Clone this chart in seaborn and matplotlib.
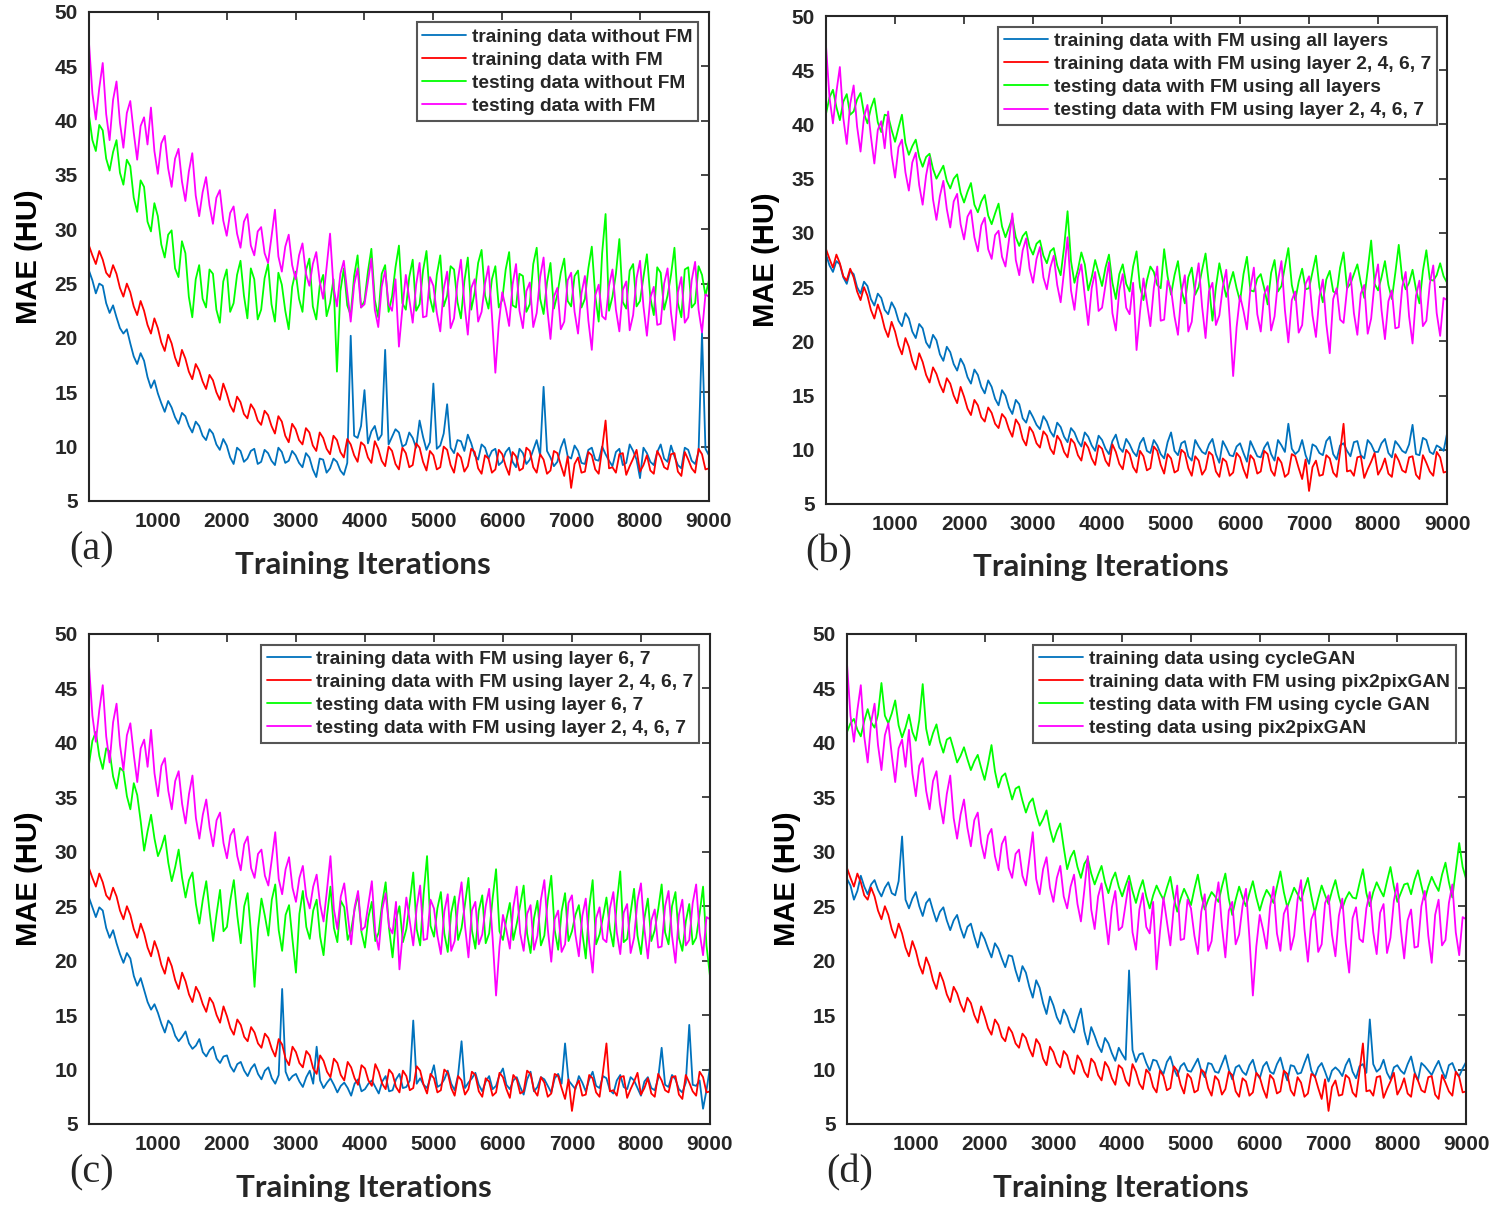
import numpy as np
import pandas as pd
import matplotlib
matplotlib.use("Agg")
import matplotlib.pyplot as plt
import seaborn as sns

# MAE (HU) every 100 training iterations (0 .. 9000),
# plus the in-between readings at 50, 150, ..., 8950 (the *_mid lists)
iters = list(range(0, 9001, 100))
half_iters = list(range(50, 9000, 100))

# shared by all four panels: training / testing data with FM (layer 2, 4, 6, 7)
train_fm = [28.5, 26.8, 27.2, 25.6, 25.9, 23.8, 24.2, 22.1, 22.5, 20.4,
            20.9, 18.8, 19.5, 17.4, 18.1, 16.2, 17.0, 15.3, 16.1, 14.3,
            14.9, 13.2, 14.1, 12.6, 13.4, 12.0, 12.9, 11.2, 12.3, 10.4,
            11.6, 10.2, 11.3, 9.6, 10.8, 9.3, 10.6, 9.0, 10.2, 8.6,
            10.1, 8.5, 9.8, 8.2, 9.6, 7.9, 9.4, 8.3, 9.9, 7.8,
            9.2, 8.1, 9.7, 7.6, 9.0, 8.2, 9.5, 7.5, 8.9, 7.9,
            9.3, 7.4, 9.1, 8.0, 9.6, 7.6, 8.8, 7.8, 9.4, 7.3,
            6.2, 9.0, 7.7, 9.2, 7.5, 12.4, 8.1, 9.3, 7.4, 8.9,
            7.7, 9.2, 7.5, 9.0, 7.9, 9.4, 7.3, 8.8, 7.6, 9.3,
            8.0]
train_fm_mid = [27.6, 28.0, 26.0, 26.7, 24.6, 25.0, 22.9, 23.4, 21.2, 21.8,
                19.6, 20.3, 18.2, 18.9, 16.9, 17.6, 16.0, 16.6, 15.0, 15.8,
                13.8, 14.6, 13.0, 13.9, 12.4, 13.3, 11.9, 12.8, 11.0, 12.1,
                10.6, 11.7, 10.1, 11.3, 9.8, 11.0, 9.5, 10.7, 9.2, 10.4,
                9.0, 10.5, 8.7, 10.0, 8.4, 9.9, 8.1, 10.3, 8.6, 9.6,
                7.9, 10.0, 8.3, 9.4, 7.7, 9.8, 8.0, 9.2, 7.6, 9.7,
                8.2, 9.5, 7.8, 9.9, 8.1, 9.3, 7.5, 9.6, 8.3, 9.1,
                8.4, 7.6, 9.5, 7.9, 9.8, 8.0, 7.6, 9.4, 8.2, 9.7,
                8.3, 7.8, 9.6, 8.1, 9.3, 7.7, 9.5, 8.0, 9.8, 7.9]
test_fm = [47.2, 40.1, 45.3, 38.2, 43.6, 37.5, 41.8, 36.4, 40.3, 41.2,
           35.1, 38.6, 33.9, 37.4, 32.6, 37.0, 31.2, 34.8, 30.5, 33.6,
           29.4, 32.1, 28.3, 31.4, 27.6, 30.2, 26.9, 31.8, 26.1, 29.5,
           25.4, 28.7, 24.8, 27.9, 23.6, 29.6, 22.9, 27.1, 21.5, 26.4,
           23.1, 27.3, 21.0, 26.2, 22.5, 19.2, 25.8, 21.4, 26.9, 22.0,
           24.8, 20.6, 26.1, 21.8, 27.2, 20.3, 25.4, 22.4, 26.6, 16.8,
           24.2, 21.1, 26.8, 20.9, 25.1, 22.3, 27.4, 19.9, 24.6, 21.5,
           26.0, 20.4, 25.7, 18.9, 24.9, 21.7, 26.3, 20.6, 25.2, 22.1,
           27.1, 20.2, 24.7, 21.3, 26.4, 19.8, 25.6, 21.9, 27.0, 20.5,
           23.8]
test_fm_mid = [42.5, 43.0, 40.6, 41.9, 39.8, 40.7, 38.9, 39.5, 37.8, 37.2,
               37.9, 35.6, 36.5, 34.4, 35.3, 33.1, 33.4, 32.2, 32.9, 30.8,
               31.5, 29.6, 30.7, 28.5, 29.8, 27.8, 29.3, 27.5, 28.4, 26.7,
               27.6, 25.9, 26.8, 25.2, 26.5, 24.7, 25.9, 24.2, 24.9, 22.8,
               25.2, 22.6, 24.7, 23.1, 25.4, 22.7, 23.6, 24.9, 21.9, 25.6,
               22.3, 24.5, 20.9, 25.1, 23.2, 24.6, 21.5, 25.0, 22.1, 21.3,
               22.8, 24.9, 22.5, 24.3, 21.0, 25.6, 22.9, 23.8, 20.8, 25.3,
               22.4, 24.1, 21.6, 23.9, 22.0, 24.8, 22.6, 24.4, 20.7, 25.5,
               22.9, 23.7, 21.2, 25.0, 22.3, 24.2, 21.4, 25.3, 22.6, 24.0]

# (a) without FM
train_a = [26.2, 24.1, 24.8, 22.3, 21.9, 20.4, 19.5, 17.6, 17.9, 15.4,
           14.9, 13.2, 13.6, 12.1, 12.8, 11.3, 11.9, 10.6, 11.2, 9.7,
           10.1, 8.4, 9.6, 8.9, 9.8, 8.6, 9.4, 8.3, 9.5, 8.7,
           9.2, 8.1, 9.0, 7.2, 8.8, 8.0, 8.6, 7.4, 20.2, 10.8,
           15.2, 11.4, 10.6, 18.9, 10.9, 11.3, 10.2, 10.8, 12.4, 9.7,
           15.8, 10.1, 13.9, 9.4, 10.5, 11.1, 9.2, 10.2, 8.9, 9.8,
           8.6, 9.9, 8.1, 9.4, 8.8, 10.6, 15.5, 9.0, 8.6, 10.7,
           8.9, 9.6, 8.4, 9.9, 8.7, 9.3, 8.2, 9.8, 8.5, 9.6,
           7.1, 9.4, 8.3, 10.2, 8.6, 9.1, 8.0, 9.7, 8.4, 20.5,
           9.2]
train_a_mid = [25.3, 25.0, 23.2, 23.0, 20.9, 20.8, 18.3, 18.6, 16.4, 16.1,
               14.0, 14.2, 12.7, 13.1, 11.9, 12.3, 11.0, 11.6, 10.2, 10.7,
               9.0, 9.9, 8.6, 9.6, 8.4, 9.7, 8.7, 9.9, 8.5, 9.6,
               8.5, 9.4, 7.9, 8.9, 7.6, 8.9, 7.8, 8.5, 11.0, 11.9,
               10.3, 11.9, 11.1, 10.2, 11.6, 10.0, 11.3, 9.9, 10.9, 10.4,
               9.8, 11.2, 9.9, 10.6, 9.6, 10.3, 8.8, 9.9, 9.6, 8.3,
               9.5, 8.6, 9.8, 8.4, 9.7, 9.2, 9.6, 8.2, 9.9, 9.1,
               10.1, 8.5, 9.7, 8.8, 10.0, 8.7, 9.5, 8.3, 10.2, 8.8,
               9.9, 8.6, 9.5, 8.9, 10.1, 8.3, 9.9, 8.7, 9.5, 9.8]
test_a = [40.5, 37.2, 39.1, 35.4, 38.2, 34.1, 35.8, 31.6, 33.9, 29.8,
          31.2, 27.4, 29.9, 25.6, 27.8, 21.9, 26.7, 22.8, 25.9, 21.4,
          26.3, 23.2, 27.1, 21.8, 25.4, 22.6, 26.8, 21.5, 24.9, 20.8,
          26.1, 22.4, 27.3, 21.7, 25.8, 23.2, 16.9, 26.4, 22.1, 27.6,
          23.4, 28.2, 21.9, 26.7, 23.8, 28.5, 22.6, 27.2, 23.1, 28.0,
          22.4, 27.6, 23.9, 26.3, 21.8, 27.4, 24.2, 28.1, 22.7, 26.6,
          23.5, 27.9, 22.8, 25.7, 23.1, 28.3, 22.2, 26.9, 24.0, 27.3,
          22.9, 26.2, 23.6, 28.4, 21.5, 31.4, 23.8, 29.1, 22.7, 26.8,
          23.4, 27.7, 22.1, 26.0, 23.9, 28.3, 21.9, 26.5, 23.2, 25.8,
          25.3]
test_a_mid = [38.2, 39.6, 36.5, 37.1, 35.2, 36.4, 32.9, 34.5, 30.7, 32.4,
              28.6, 29.5, 26.4, 28.9, 23.8, 25.4, 23.6, 26.3, 22.6, 25.2,
              22.4, 25.8, 23.9, 26.4, 21.7, 25.5, 23.1, 26.0, 22.5, 24.7,
              23.6, 26.2, 22.9, 24.8, 22.0, 25.4, 24.3, 23.0, 25.7, 22.8,
              26.1, 23.5, 25.9, 22.4, 26.5, 23.2, 25.6, 22.5, 26.2, 23.7,
              25.8, 22.9, 26.6, 23.3, 25.2, 22.6, 26.9, 23.9, 25.4, 22.8,
              26.3, 23.0, 25.9, 22.4, 26.8, 23.6, 25.1, 22.7, 26.0, 23.4,
              25.7, 22.8, 26.4, 23.9, 27.8, 22.5, 25.9, 23.3, 26.2, 22.9,
              25.6, 23.7, 26.5, 22.6, 25.8, 23.2, 26.3, 22.8, 26.6, 23.9]

# (b) FM using all layers
train_b = [28.0, 26.4, 27.1, 25.3, 26.2, 24.4, 25.1, 23.3, 24.0, 22.5,
           23.0, 21.4, 22.1, 20.3, 21.2, 19.4, 20.1, 18.2, 19.0, 17.3,
           17.8, 16.1, 16.9, 15.2, 15.8, 14.1, 15.0, 13.3, 14.2, 12.5,
           13.0, 11.9, 12.6, 11.2, 12.1, 10.7, 11.6, 10.3, 11.2, 9.9,
           10.9, 9.6, 11.4, 9.8, 10.5, 9.4, 11.1, 9.7, 10.4, 9.2,
           11.6, 9.5, 10.8, 9.0, 10.3, 9.6, 11.0, 8.8, 10.2, 9.4,
           10.6, 8.9, 10.1, 9.3, 10.7, 9.0, 10.4, 12.4, 9.6, 10.9,
           8.7, 10.3, 9.5, 11.2, 9.1, 10.6, 9.4, 10.8, 9.2, 10.5,
           9.8, 11.0, 9.3, 10.4, 9.7, 12.3, 9.5, 10.9, 9.6, 10.2,
           11.5]
train_b_mid = [27.0, 27.4, 25.9, 26.5, 25.0, 25.5, 23.9, 24.4, 22.9, 23.6,
               21.9, 22.6, 20.9, 21.6, 19.9, 20.6, 18.8, 19.5, 17.9, 18.4,
               16.7, 17.4, 15.8, 16.4, 14.7, 15.5, 13.9, 14.6, 12.9, 13.6,
               12.3, 13.1, 11.7, 12.5, 11.2, 12.0, 10.8, 11.6, 10.4, 11.3,
               10.1, 10.8, 10.2, 11.0, 9.8, 10.6, 9.9, 10.9, 9.6, 10.7,
               9.9, 10.6, 9.4, 10.9, 9.8, 10.5, 9.6, 10.8, 9.5, 10.3,
               9.7, 10.8, 9.4, 10.2, 9.6, 10.9, 9.8, 10.1, 9.9, 9.5,
               10.5, 9.7, 10.8, 9.6, 10.4, 9.9, 10.7, 9.5, 10.9, 9.8,
               10.6, 9.7, 10.8, 9.9, 10.5, 9.6, 11.1, 9.8, 10.4, 9.9]
test_b = [41.0, 43.2, 40.4, 42.8, 41.2, 42.9, 40.1, 42.4, 39.3, 40.8,
          38.4, 40.9, 37.2, 38.6, 36.1, 37.3, 35.0, 36.2, 34.1, 35.4,
          32.8, 34.6, 31.9, 33.5, 30.8, 32.7, 29.6, 31.4, 28.8, 30.1,
          28.0, 29.3, 27.2, 28.6, 26.1, 32.0, 25.4, 28.2, 24.7, 27.5,
          25.1, 28.0, 23.9, 27.1, 24.6, 28.3, 23.8, 26.9, 25.2, 28.5,
          24.3, 27.4, 23.5, 26.8, 25.0, 28.1, 21.9, 27.2, 24.1, 26.4,
          23.7, 27.8, 24.6, 26.2, 23.4, 27.5, 25.1, 28.6, 23.8, 26.7,
          24.9, 27.9, 23.6, 26.5, 24.4, 28.2, 25.3, 27.1, 24.0, 29.3,
          24.7, 27.4, 23.9, 28.9, 24.8, 26.6, 23.5, 28.4, 25.6, 27.2,
          25.4]
test_b_mid = [42.5, 41.6, 42.1, 40.9, 42.3, 41.0, 41.5, 40.2, 40.9, 39.5,
              39.7, 38.3, 38.0, 37.0, 37.0, 35.9, 35.6, 34.8, 35.0, 33.7,
              33.8, 32.6, 32.9, 31.6, 31.8, 30.6, 30.5, 29.6, 29.7, 28.7,
              29.0, 27.9, 28.3, 27.0, 28.7, 27.4, 26.6, 27.1, 25.9, 26.3,
              26.8, 25.4, 26.2, 25.3, 26.9, 25.0, 25.6, 26.4, 24.9, 26.0,
              26.1, 24.8, 25.9, 24.3, 26.6, 25.2, 25.0, 25.6, 25.3, 24.9,
              26.2, 24.7, 25.8, 24.9, 26.3, 24.6, 26.9, 25.2, 25.5, 24.8,
              26.4, 25.0, 25.7, 24.6, 26.8, 24.9, 26.2, 25.4, 26.6, 25.3,
              25.9, 25.2, 26.3, 25.8, 25.4, 24.8, 26.5, 25.7, 26.1, 26.0]

# (c) FM using layer 6, 7
train_c = [25.8, 24.0, 24.6, 22.1, 21.6, 19.8, 20.2, 17.7, 17.3, 15.5,
           15.2, 13.4, 14.1, 12.6, 13.5, 11.9, 12.8, 11.2, 12.1, 10.6,
           11.3, 9.8, 10.7, 9.4, 10.5, 9.1, 10.2, 8.7, 17.4, 9.0,
           9.6, 8.4, 9.9, 12.1, 8.3, 9.2, 7.9, 8.8, 7.6, 9.1,
           8.2, 9.0, 7.8, 9.4, 8.1, 9.6, 8.4, 14.5, 9.2, 8.3,
           10.4, 8.6, 9.9, 8.1, 12.6, 8.8, 9.7, 8.0, 9.4, 8.5,
           10.1, 8.2, 9.3, 7.7, 9.8, 8.4, 9.1, 7.9, 9.6, 12.4,
           8.6, 9.4, 8.0, 9.8, 8.3, 9.2, 7.8, 9.5, 8.2, 9.0,
           7.6, 9.3, 8.1, 12.0, 8.4, 9.1, 7.9, 14.1, 8.5, 6.4,
           10.2]
train_c_mid = [24.9, 24.9, 23.0, 22.8, 20.6, 20.7, 18.6, 18.4, 16.2, 16.0,
               14.2, 14.5, 13.1, 13.0, 12.4, 12.2, 11.6, 11.8, 11.0, 11.2,
               10.3, 10.5, 9.9, 10.1, 9.6, 9.9, 9.2, 9.5, 9.8, 9.4,
               8.9, 9.3, 8.7, 9.0, 8.8, 8.6, 8.5, 8.3, 8.7, 8.0,
               8.7, 8.4, 8.9, 8.0, 9.1, 8.3, 9.0, 8.7, 8.6, 9.3,
               8.4, 9.1, 8.7, 9.5, 8.3, 9.2, 8.6, 8.9, 8.2, 9.5,
               8.6, 9.0, 8.4, 9.1, 8.0, 9.3, 8.5, 9.2, 8.7, 9.0,
               8.2, 8.8, 9.1, 8.5, 9.4, 8.1, 9.0, 8.4, 9.3, 8.3,
               8.9, 8.3, 9.2, 8.6, 9.5, 8.2, 8.8, 8.6, 9.0, 8.1]
test_c = [38.0, 41.0, 37.6, 39.2, 35.8, 37.4, 33.9, 35.2, 30.1, 33.4,
          29.6, 31.5, 27.3, 30.2, 25.8, 28.1, 23.4, 27.3, 21.8, 26.5,
          23.1, 27.4, 21.6, 26.2, 17.6, 25.7, 22.3, 27.0, 20.9, 25.1,
          18.9, 26.4, 22.0, 25.6, 20.5, 26.8, 21.7, 24.9, 22.8, 26.1,
          21.2, 25.4, 22.6, 27.2, 20.3, 25.0, 22.9, 28.1, 21.4, 29.6,
          22.2, 26.3, 20.8, 25.9, 23.0, 27.6, 21.1, 26.0, 22.5, 28.4,
          21.9, 25.3, 23.4, 26.9, 20.7, 25.5, 22.3, 27.8, 21.0, 26.2,
          22.7, 25.1, 20.2, 27.4, 22.4, 25.8, 21.3, 28.2, 22.0, 26.6,
          20.6, 25.7, 22.8, 27.0, 21.5, 26.3, 20.9, 25.2, 22.1, 26.8,
          18.6]
test_c_mid = [40.2, 38.8, 39.5, 36.9, 37.7, 35.1, 36.3, 32.8, 31.9, 31.2,
              30.4, 29.0, 28.6, 27.6, 27.4, 25.2, 25.6, 24.4, 24.3, 22.7,
              25.6, 24.1, 25.0, 22.4, 22.9, 24.1, 25.6, 22.8, 24.2, 21.9,
              24.3, 23.1, 24.6, 22.2, 24.1, 23.0, 25.5, 21.9, 24.7, 22.6,
              24.0, 21.8, 25.3, 22.9, 23.8, 21.7, 25.4, 22.9, 26.1, 23.2,
              24.8, 22.5, 24.4, 21.9, 25.2, 22.8, 24.6, 21.6, 25.7, 22.7,
              23.8, 21.9, 25.1, 22.5, 23.9, 21.4, 25.6, 22.8, 24.5, 21.8,
              24.2, 22.6, 24.9, 21.5, 24.0, 22.9, 25.3, 21.7, 24.4, 22.3,
              23.9, 21.8, 24.7, 22.6, 25.0, 22.1, 23.6, 21.5, 24.3, 21.4]

# (d) cycleGAN vs pix2pixGAN
train_d = [27.5, 25.6, 27.8, 26.1, 27.4, 25.9, 27.2, 26.0, 31.4, 24.8,
           26.3, 24.1, 25.7, 23.6, 24.9, 22.8, 24.2, 22.1, 23.4, 21.2,
           22.0, 20.3, 21.1, 19.4, 20.4, 18.1, 18.9, 16.6, 17.5, 15.1,
           15.9, 14.2, 14.9, 13.4, 15.6, 12.3, 13.1, 11.6, 12.4, 10.8,
           11.4, 19.1, 10.7, 11.5, 9.9, 10.8, 9.6, 11.2, 9.4, 10.6,
           9.8, 11.0, 9.3, 10.5, 9.7, 11.3, 9.1, 10.4, 9.5, 10.9,
           9.2, 10.7, 9.6, 11.1, 9.0, 10.3, 9.7, 11.4, 9.3, 10.6,
           8.9, 10.2, 9.4, 11.0, 9.2, 10.5, 14.6, 9.8, 10.9, 9.1,
           10.4, 9.6, 11.2, 9.0, 10.3, 9.5, 10.8, 9.2, 10.6, 9.4,
           10.7]
train_d_mid = [26.9, 26.4, 26.8, 27.0, 26.5, 26.7, 26.2, 27.3, 25.6, 25.7,
               25.0, 25.3, 24.6, 24.5, 23.7, 23.7, 23.0, 23.1, 22.2, 22.6,
               21.1, 21.6, 20.2, 20.5, 19.1, 19.5, 17.6, 18.2, 16.1, 16.7,
               14.8, 15.5, 13.9, 14.6, 13.5, 13.9, 12.2, 12.9, 11.5, 12.0,
               10.9, 11.8, 11.4, 10.6, 10.9, 10.0, 10.7, 10.1, 10.3, 9.9,
               10.4, 9.9, 10.6, 9.8, 10.5, 10.0, 10.2, 9.8, 10.4, 9.7,
               10.3, 9.8, 10.5, 9.9, 10.4, 9.6, 10.6, 9.9, 10.2, 9.8,
               9.9, 9.9, 10.4, 9.8, 10.3, 9.7, 10.5, 10.1, 9.7, 10.2,
               9.9, 10.5, 9.8, 10.6, 9.9, 10.2, 9.9, 10.4, 9.8, 10.1]
test_d = [41.0, 42.2, 40.6, 43.1, 41.4, 45.5, 41.8, 43.9, 40.5, 42.6,
          40.2, 45.4, 39.8, 41.7, 39.1, 40.5, 38.2, 39.6, 37.5, 38.9,
          36.6, 39.8, 35.9, 37.2, 34.8, 36.0, 33.6, 34.9, 32.4, 33.8,
          30.9, 32.6, 28.4, 30.1, 27.6, 29.4, 27.0, 28.7, 26.2, 28.1,
          25.9, 27.8, 25.3, 27.4, 24.8, 26.9, 25.6, 27.7, 24.5, 26.6,
          25.1, 27.9, 24.7, 26.3, 25.4, 28.0, 24.2, 26.8, 25.0, 27.3,
          24.6, 26.5, 25.3, 28.2, 24.9, 26.7, 25.5, 27.6, 24.4, 26.9,
          25.2, 27.4, 24.8, 26.3, 25.7, 28.4, 25.0, 27.2, 25.9, 28.6,
          25.4, 27.0, 26.1, 28.3, 25.6, 27.7, 26.4, 29.0, 25.8, 30.8,
          27.5]
test_d_mid = [41.8, 41.2, 42.0, 41.9, 42.6, 42.5, 42.7, 41.6, 41.4, 41.0,
              42.1, 41.3, 40.9, 40.1, 40.3, 39.4, 38.8, 38.5, 38.3, 37.7,
              38.1, 37.4, 36.9, 36.0, 35.8, 34.7, 34.5, 33.5, 33.0, 32.1,
              31.9, 30.4, 29.5, 28.6, 28.9, 28.0, 27.9, 27.2, 27.4, 26.8,
              26.9, 26.4, 26.5, 25.9, 26.0, 26.2, 26.7, 25.8, 25.7, 25.9,
              26.6, 26.0, 25.6, 25.9, 26.8, 25.7, 25.6, 25.8, 26.2, 25.8,
              25.7, 26.0, 26.8, 26.3, 25.8, 26.1, 26.6, 25.9, 25.7, 26.0,
              26.4, 25.9, 25.7, 25.8, 27.1, 26.2, 26.3, 26.5, 27.3, 26.8,
              26.2, 27.1, 27.4, 26.9, 26.8, 27.0, 27.9, 27.2, 28.3, 28.6]

panels = [
    ("(a)", [(train_a, train_a_mid), (train_fm, train_fm_mid),
             (test_a, test_a_mid), (test_fm, test_fm_mid)],
     ["training data without FM", "training data with FM",
      "testing data without FM", "testing data with FM"]),
    ("(b)", [(train_b, train_b_mid), (train_fm, train_fm_mid),
             (test_b, test_b_mid), (test_fm, test_fm_mid)],
     ["training data with FM using all layers",
      "training data with FM using layer 2, 4, 6, 7",
      "testing data with FM using all layers",
      "testing data with FM using layer 2, 4, 6, 7"]),
    ("(c)", [(train_c, train_c_mid), (train_fm, train_fm_mid),
             (test_c, test_c_mid), (test_fm, test_fm_mid)],
     ["training data with FM using layer 6, 7",
      "training data with FM using layer 2, 4, 6, 7",
      "testing data with FM using layer 6, 7",
      "testing data with FM using layer 2, 4, 6, 7"]),
    ("(d)", [(train_d, train_d_mid), (train_fm, train_fm_mid),
             (test_d, test_d_mid), (test_fm, test_fm_mid)],
     ["training data using cycleGAN",
      "training data with FM using pix2pixGAN",
      "testing data with FM using cycle GAN",
      "testing data using pix2pixGAN"]),
]
colors = ["#0072BD", "#FF0000", "#00FF00", "#FF00FF"]

# axes boxes [left, bottom, width, height] in figure fractions
boxes = [
    [0.0593, 0.5877, 0.4133, 0.4025],
    [0.5507, 0.5852, 0.4140, 0.4016],
    [0.0593, 0.0749, 0.4140, 0.4033],
    [0.5647, 0.0749, 0.4127, 0.4033],
]

sns.set_theme(style="white")
plt.rcParams["font.family"] = ["Liberation Sans", "DejaVu Sans"]

fig = plt.figure(figsize=(15, 12.15), dpi=100)
dark = "#262626"

for (tag, series, labels), box in zip(panels, boxes):
    ax = fig.add_axes(box)
    rows = []
    for lab, (vals, mids) in zip(labels, series):
        rows += [(it, v, lab) for it, v in zip(iters, vals)]
        rows += [(it, v, lab) for it, v in zip(half_iters, mids)]
    df = pd.DataFrame(rows, columns=["iteration", "mae", "series"])
    df = df.sort_values("iteration", kind="stable")
    sns.lineplot(data=df, x="iteration", y="mae", hue="series",
                 hue_order=labels, palette=colors, estimator=None,
                 errorbar=None, linewidth=1.3, ax=ax)

    ax.set_xlim(0, 9000)
    ax.set_ylim(5, 50)
    ax.set_xticks(range(1000, 9001, 1000))
    ax.set_yticks(range(5, 51, 5))
    ax.tick_params(direction="in", length=6, width=1.2, colors=dark,
                   top=True, right=True, labelsize=15, pad=8)
    for lab in ax.get_xticklabels() + ax.get_yticklabels():
        lab.set_fontweight("bold")
    for sp in ax.spines.values():
        sp.set_color(dark)
        sp.set_linewidth(1.5)
    ax.set_xlabel("")
    ax.set_ylabel("MAE (HU)", fontsize=21, fontweight="bold",
                  color="black", labelpad=8)
    ax.text(0.442, -0.13, "Training Iterations", transform=ax.transAxes,
            ha="center", va="center", fontsize=22.5, fontweight="bold",
            family=["Lato", "DejaVu Sans"])
    ax.text(0.005, -0.1, tag, transform=ax.transAxes, ha="center",
            va="center", fontsize=29, family=["Liberation Serif", "DejaVu Serif"])

    leg = ax.legend(loc="upper right", fontsize=13.8, frameon=True,
                    fancybox=False, framealpha=1, borderaxespad=0.55,
                    handlelength=2.3, handletextpad=0.3, labelspacing=0.3,
                    borderpad=0.3)
    leg.get_frame().set_edgecolor("#555555")
    leg.get_frame().set_linewidth(1.5)
    for t in leg.get_texts():
        t.set_fontweight("bold")
    for h in leg.get_lines():
        h.set_linewidth(1.3)

fig.savefig("out.png", dpi=100)
